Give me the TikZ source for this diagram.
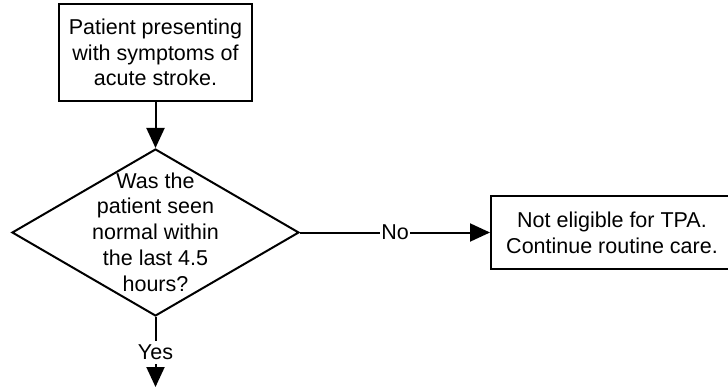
\documentclass[tikz,border=0pt]{standalone}
\usepackage{fontspec}
\setmainfont{Liberation Sans}
\usetikzlibrary{arrows.meta, shapes.geometric}

\begin{document}
\begin{tikzpicture}[x=1pt, y=1pt,
		line width=2pt,
		every node/.style = {font=\fontsize{21.5}{25.8}\selectfont, align=center},
		process/.style = {draw, rectangle, inner sep=0pt},
		decision/.style = {draw, diamond, inner sep=0pt},
		flow/.style = {-{Triangle[length=20pt, width=18pt]}}]
			\def\cx{155.5};
			\def\cy{153.5};

			\useasboundingbox (0,0) rectangle (728,386);

			\node [process, minimum width=193pt, minimum height=97pt] (onset) at (\cx,333.5)
				{Patient presenting\\with symptoms of\\acute stroke.};
			\node [decision, minimum width=287pt, minimum height=167pt] (seen) at (\cx,\cy) {};
			\node (question) at (\cx,\cy+0.5)
				{Was the\\patient seen\\normal within\\the last 4.5\\hours?};
			\node [process, minimum width=242pt, minimum height=73pt] (noTPA) at (612,\cy)
				{Not eligible for TPA.\\Continue routine care.};
			\coordinate (next) at (\cx,-1);

			\begin{scope}[flow]
				\draw (onset) -- (seen);
				\draw (seen.east) -- (noTPA) node [midway, fill = white, inner sep=1pt] {No};
				\draw (seen.south) -- (next) node [midway, fill = white, inner sep=4pt] {Yes};
			\end{scope}
		\end{tikzpicture}
\end{document}
